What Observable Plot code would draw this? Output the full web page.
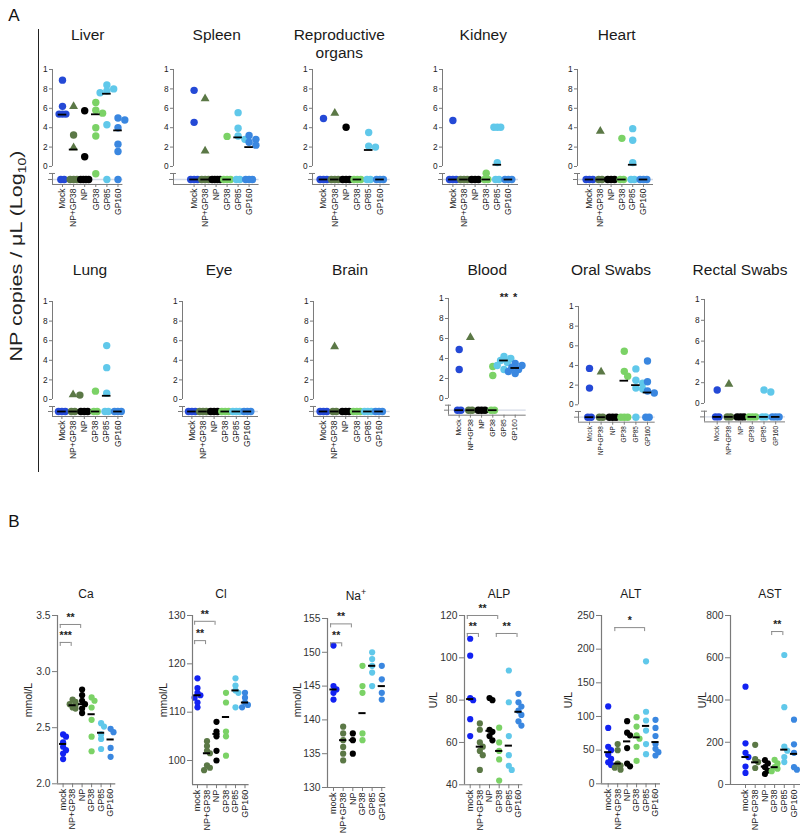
<!DOCTYPE html>
<html><head><meta charset="utf-8">
<script src="https://cdn.jsdelivr.net/npm/d3@7"></script>
<script src="https://cdn.jsdelivr.net/npm/@observablehq/plot@0.6"></script>
<style>
body{margin:0;background:#fff;font-family:Arial,"Liberation Sans",sans-serif;color:#222}
#page{position:relative;width:800px;height:836px;overflow:hidden;background:#fff}
</style></head><body><div id="page"></div>
<script>
// ---------- DATA ----------
const groups = ["Mock","NP+GP38","NP","GP38","GP85","GP160"];
const groupsLower = ["mock","NP+GP38","NP","GP38","GP85","GP160"];
const colorsA = ["#2449d6","#5b7846","#000000","#7bd266","#60c8ea","#3a87e0"];
const colorsB = ["#1222f2","#5b7846","#000000","#7bd266","#60c8ea","#3a87e0"];
const ND = null; // below detection limit

// Panel A: log10 NP copies/µL, per group [Mock, NP+GP38, NP, GP38, GP85, GP160]
const liver = [[8.9,6.2,5.4,5.4,5.4,ND,ND],[6.2,3.25,1.95,ND,ND,ND],[5.75,1.0,ND,ND,ND,ND],[6.6,5.8,5.5,4.0,3.15,-0.75],[8.4,8.0,7.8,7.6,4.3,ND],[5.0,4.8,4.0,2.3,1.55,ND]];
const liverMedian = [5.35,1.75,ND,5.38,7.5,3.72];
const liverTri = [6.2,1.95];
const spleen = [[7.85,4.55,ND,ND,ND],[7.0,1.6,ND,ND,ND],[ND,ND,ND,ND],[3.1,ND,ND,ND],[5.55,3.95,3.15,2.8,ND,ND],[3.2,2.8,2.5,2.2,ND,ND,ND]];
const spleenMedian = [ND,ND,ND,ND,3.0,2.0];
const spleenTri = [7.0,1.6];
const repro = [[4.95,ND,ND,ND],[5.5,ND,ND,ND],[4.05,ND,ND,ND],[ND,ND,ND],[3.5,2.1,2.0,ND,ND],[ND,ND,ND]];
const reproMedian = [ND,ND,ND,ND,1.7,ND];
const reproTri = [5.5];
const kidney = [[4.75,ND,ND,ND],[ND,ND,ND],[ND,ND,ND],[-0.7,ND,ND],[4.05,4.05,4.05,0.4,ND,ND],[ND,ND,ND]];
const kidneyMedian = [ND,ND,ND,ND,0.18,ND];
const kidneyTri = [];
const heart = [[ND,ND,ND],[3.65,ND,ND],[ND,ND,ND],[2.9,ND,ND],[3.9,2.7,0.4,ND,ND],[ND,ND,ND]];
const heartMedian = [ND,ND,ND,ND,0.18,ND];
const heartTri = [3.65];
const lung = [[ND,ND,ND],[0.5,0.45,ND,ND],[ND,ND,ND],[0.85,ND,ND],[5.5,3.25,0.65,ND,ND],[ND,ND,ND]];
const lungMedian = [ND,ND,ND,ND,0.38,ND];
const lungTri = [0.5];
const eye = [[ND,ND,ND],[ND,ND,ND],[ND,ND,ND],[ND,ND,ND],[ND,ND,ND],[ND,ND,ND]];
const eyeMedian = [ND,ND,ND,ND,ND,ND];
const eyeTri = [];
const brain = [[ND,ND,ND],[5.4,ND,ND],[ND,ND,ND],[ND,ND,ND],[ND,ND,ND],[ND,ND,ND]];
const brainMedian = [ND,ND,ND,ND,ND,ND];
const brainTri = [5.4];
const blood = [[4.9,2.9,ND,ND],[6.1,ND,ND],[ND,ND,ND],[3.2,2.3,ND,ND],[4.2,4.0,3.8,3.6,3.3,2.9],[3.5,3.3,3.1,2.9,2.7,2.5]];
const bloodMedian = [ND,ND,ND,ND,3.8,3.05];
const bloodTri = [6.1];
const bloodStars = [{g:4,t:"**"},{g:5,t:"*"}];
const oral = [[3.7,1.7,ND,ND],[3.35,ND,ND],[ND,ND,ND],[5.45,3.4,2.9,ND,ND,ND],[3.65,2.5,2.2,1.7,1.6,ND],[4.45,2.35,1.4,1.2,ND,ND]];
const oralMedian = [ND,ND,ND,2.45,2.0,1.25];
const oralTri = [3.35];
const rectal = [[1.3,ND,ND],[1.85,ND,ND],[ND,ND,ND],[ND,ND,ND],[1.3,1.1,ND,ND],[ND,ND,ND]];
const rectalMedian = [ND,ND,ND,ND,ND,ND];
const rectalTri = [1.85];
const organTicks = [0,2,4,6,8,10];

// Panel B: blood chemistry
const ca = [[2.44,2.42,2.37,2.33,2.30,2.27,2.22],[2.75,2.73,2.71,2.70,2.68,2.67],[2.84,2.79,2.74,2.71,2.67,2.63],[2.77,2.74,2.68,2.57,2.42,2.29],[2.54,2.51,2.44,2.40,2.31],[2.49,2.46,2.32,2.24]];
const caMedian = [2.355,2.70,2.71,2.62,2.455,2.395];
const caSig = [{a:0,b:2,y:3.42,t:"**"},{a:0,b:1,y:3.26,t:"***"}];
const cl = [[117,115,114,113.5,113,112,111],[104,103,102,101.5,99,98.5,98],[108,106,105,102,100],[114,112,106,105,101],[117,115.5,114.5,114,111],[114,113,112,111.5,111]];
const clMedian = [113.5,101.5,105.5,109,114.5,112];
const clSig = [{a:0,b:2,y:128.8,t:"**"},{a:0,b:1,y:124.8,t:"**"}];
const na = [[151,145,144.5,144,143],[139,138,137,136,135,134],[138,137,135],[148,145,144,138,137],[150,149,148,147,145],[148,146,144,143]];
const naMedian = [144.5,137,137,141,148,145];
const naSig = [{a:0,b:2,y:154.2,t:"**"},{a:0,b:1,y:151.4,t:"**"}];
const alp = [[109,101,81,80,71,63],[69,66,60,58,56,54,47],[81,80,66,65,63,61],[67,60,56,52,42],[94,79,63,54,49,47],[83,79,77,75,73,70,68]];
const alpMedian = [80.5,58,65.5,56,58.5,74.5];
const alpSig = [{a:0,b:3,y:120,t:"**"},{a:0,b:1,y:111.5,t:"**"},{a:3,b:5,y:111.5,t:"**"}];
const alt = [[115,83,55,50,43,37,32,28],[59,50,30,27,24,21],[93,76,72,53,30,26],[99,85,72,67,55,34],[182,107,94,79,59,44],[95,83,71,59,52,47,42]];
const altMedian = [47,30,63,69,86,62];
const altSig = [{a:1,b:4,y:232,t:"*"}];
const ast = [[463,195,150,130,85,55],[188,120,106,78],[115,100,82,66,50],[117,100,82,75,63],[613,366,180,160,130,106],[307,190,150,82,70]];
const astMedian = [130,105,85,82,165,145];
const astSig = [{a:3,b:4,y:724,t:"**"}];

// ---------- LAYOUT ----------
const page = document.getElementById("page");
const FONT = "Arial, 'Liberation Sans', sans-serif";
const axisC = "#7a7a7a";
function put(el, left, top){ el.style.position="absolute"; el.style.left=left+"px"; el.style.top=top+"px"; page.appendChild(el); }
function label(html, x, y, css){ const d=document.createElement("div"); d.innerHTML=html;
  d.style.cssText=`position:absolute;left:${x}px;top:${y}px;transform:translate(-50%,-50%);white-space:nowrap;text-align:center;line-height:1.15;${css||""}`; page.appendChild(d); return d; }

function dodge(ys, pxPerUnit, r, s, maxSteps){
  const n=ys.length, off=new Array(n).fill(0), done=new Array(n).fill(false);
  const runs=d3.group(d3.range(n), i=>ys[i]);
  for (const idx of runs.values()){
    if (idx.length<2) continue;
    const step=Math.min(s, 8/(idx.length-1));
    idx.forEach((i,k)=>{ off[i]=(k-(idx.length-1)/2)*step; done[i]=true; });
  }
  for (let i=0;i<n;i++){
    if (done[i]) continue;
    const cands=[0]; for (let k=1;k<=maxSteps;k++) cands.push(k*s,-k*s);
    let best=0, bestD=-1;
    for (const c of cands){
      let minD=Infinity;
      for (let j=0;j<n;j++) if (done[j]) minD=Math.min(minD, Math.hypot(c-off[j], (ys[i]-ys[j])*pxPerUnit));
      if (minD>=1.4*r){ best=c; break; }
      if (minD>bestD){ bestD=minD; best=c; }
    }
    off[i]=best; done[i]=true;
  }
  return off;
}

const row1 = {y10:69, y0:166, cap:173, nd:179, bottom:184, ty:35};
const row2 = {y10:301, y0:399, cap:406, nd:411, bottom:416, ty:270};
const rowBlood = {y10:298.3, y0:398.3, cap:405, nd:410, bottom:415, ty:270};
const rowOral = {y10:306, y0:404.3, cap:411, nd:416.7, bottom:421.7, ty:270};
const rowRectal = {y10:299.3, y0:403.3, cap:411, nd:416.7, bottom:421.7, ty:270};

const organs = [
  {title:"Liver", data:liver, median:liverMedian, tri:liverTri, geo:row1, ax:52.3, first:62.3, spacing:11.1, end:122.7, tx:87.7},
  {title:"Spleen", data:spleen, median:spleenMedian, tri:spleenTri, geo:row1, ax:172.7, first:193.3, spacing:11.0, end:258.3, tx:216.7},
  {title:"Reproductive<br>organs", data:repro, median:reproMedian, tri:reproTri, geo:row1, ax:312.3, first:323.3, spacing:11.3, end:390, tx:339.3, ty:44},
  {title:"Kidney", data:kidney, median:kidneyMedian, tri:kidneyTri, geo:row1, ax:442.3, first:452.7, spacing:11.1, end:518.3, tx:483.3},
  {title:"Heart", data:heart, median:heartMedian, tri:heartTri, geo:row1, ax:577.3, first:589.3, spacing:10.8, end:653.3, tx:616.7},
  {title:"Lung", data:lung, median:lungMedian, tri:lungTri, geo:row2, ax:52.3, first:61.7, spacing:11.2, end:123.3, tx:90},
  {title:"Eye", data:eye, median:eyeMedian, tri:eyeTri, geo:row2, ax:182.3, first:191.7, spacing:11.1, end:258.3, tx:219},
  {title:"Brain", data:brain, median:brainMedian, tri:brainTri, geo:row2, ax:313.3, first:323.3, spacing:11.1, end:390, tx:350},
  {title:"Blood", data:blood, median:bloodMedian, tri:bloodTri, geo:rowBlood, ax:448.3, first:459, spacing:11.2, end:526, tx:487.3, fs:6.9, stars:bloodStars},
  {title:"Oral Swabs", data:oral, median:oralMedian, tri:oralTri, geo:rowOral, ax:578.3, first:589.3, spacing:11.6, end:655, tx:611, fs:6.4},
  {title:"Rectal Swabs", data:rectal, median:rectalMedian, tri:rectalTri, geo:rowRectal, ax:704, first:716.7, spacing:11.7, end:785, tx:740, fs:6.4}
];

function organPanel(p){
  const g=p.geo, unit=(g.y0-g.y10)/10, toVal=px=>(g.y0-px)/unit;
  const ndVal=toVal(g.nd), capVal=toVal(g.cap), yMin=toVal(g.bottom);
  const xmin=(p.ax-p.first)/p.spacing, xmax=(p.end-p.first)/p.spacing;
  const mL=26, mR=10, mT=14, mB=60;
  const width=mL+(p.end-p.ax)+mR, height=mT+(g.bottom-g.y10)+mB;
  const r=3.7, pts=[];
  p.data.forEach((vals,gi)=>{
    const ys=vals.map(v=>v??ndVal);
    const off=dodge(ys, unit, r, 3.4, 2);
    const triList = gi===1 ? [...p.tri] : [];
    ys.forEach((y,k)=>{
      const v=vals[k]; let tri=false;
      const ti = v!=null ? triList.indexOf(v) : -1;
      if (ti>=0){ tri=true; triList.splice(ti,1); }
      pts.push({gi, x:gi+off[k]/p.spacing, y, tri, fill:colorsA[gi]});
    });
  });
  const meds=p.median.map((m,gi)=>({gi, y:m??ndVal}));
  const hw=4.3/p.spacing;
  const marks=[
    Plot.ruleY([ndVal], {x1:()=>xmin, x2:()=>xmax, stroke:"#d4dae6", strokeWidth:1.3}),
    Plot.dot(pts.filter(d=>!d.tri), {x:"x", y:"y", r, fill:"fill"}),
    Plot.dot(pts.filter(d=>d.tri), {x:"x", y:"y", r:3.3, symbol:"triangle", fill:"fill"}),
    Plot.ruleY(meds, {y:"y", x1:d=>d.gi-hw, x2:d=>d.gi+hw, stroke:"#000", strokeWidth:1.8}),
    Plot.ruleX([xmin], {y1:()=>0, y2:()=>10, stroke:axisC}),
    Plot.ruleX([xmin], {y1:()=>capVal, y2:()=>yMin, stroke:axisC}),
    Plot.ruleY([capVal], {x1:()=>xmin-3/p.spacing, x2:()=>xmin+3/p.spacing, stroke:axisC}),
    Plot.ruleY([yMin], {x1:()=>xmin, x2:()=>xmax, stroke:axisC}),
    Plot.axisY({ticks:organTicks, tickFormat:d=>d===10?"1":String(d), tickSize:3, tickPadding:2, fontSize:8.3, fill:"#222", stroke:axisC, label:null}),
    Plot.axisY({ticks:[ndVal], tickFormat:()=>"", tickSize:4, stroke:axisC, label:null}),
    Plot.axisX({ticks:d3.range(6), tickFormat:i=>groups[i], tickRotate:-90, tickSize:3, tickPadding:1, fontSize:p.fs||8.5, fill:"#222", stroke:axisC, label:null})
  ];
  if (p.stars) marks.push(Plot.text(p.stars, {x:"g", y:()=>10.15, text:"t", fontSize:11, fontWeight:"bold", fill:"#222"}));
  const svg=Plot.plot({width, height, marginLeft:mL, marginRight:mR, marginTop:mT, marginBottom:mB,
    x:{domain:[xmin,xmax]}, y:{domain:[yMin,10]}, color:{type:"identity"},
    style:{fontFamily:FONT, background:"transparent", overflow:"visible"}, marks});
  put(svg, p.ax-mL, g.y10-mT);
  label(p.title, p.tx, p.ty??g.ty, "font-size:15.5px;color:#1a1a1a");
}
organs.forEach(organPanel);

// Panel B
const chems = [
  {title:"Ca", data:ca, median:caMedian, sig:caSig, domain:[2.0,3.5], ticks:[2.0,2.5,3.0,3.5], fmt:d=>d.toFixed(1), top:615, bot:783.3, ax:56.7, first:62.3, spacing:9.5, end:115, tx:86, unit:"mmol/L", ux:28},
  {title:"Cl", data:cl, median:clMedian, sig:clSig, domain:[95,130], ticks:[100,110,120,130], fmt:d=>d, top:615, bot:784.2, ax:191.7, first:196.7, spacing:9.5, end:248.3, tx:221, unit:"mmol/L", ux:163},
  {title:"Na<sup style='font-size:9px'>+</sup>", data:na, median:naMedian, sig:naSig, domain:[130,155], ticks:[130,135,140,145,150,155], fmt:d=>d, top:617.7, bot:786.7, ax:326.7, first:332.7, spacing:9.66, end:385, tx:356, unit:"mmol/L", ux:297},
  {title:"ALP", data:alp, median:alpMedian, sig:alpSig, domain:[40,120], ticks:[40,60,80,100,120], fmt:d=>d, top:615, bot:784.3, ax:464.3, first:470, spacing:9.66, end:522.7, tx:499, unit:"U/L", ux:433},
  {title:"ALT", data:alt, median:altMedian, sig:altSig, domain:[0,250], ticks:[0,50,100,150,200,250], fmt:d=>d, top:615, bot:783.3, ax:601, first:607.7, spacing:9.46, end:660, tx:630.7, unit:"U/L", ux:568},
  {title:"AST", data:ast, median:astMedian, sig:astSig, domain:[0,800], ticks:[0,200,400,600,800], fmt:d=>d, top:615, bot:784, ax:730, first:745, spacing:9.7, end:800, tx:770, unit:"U/L", ux:702}
];

function chemPanel(p){
  const mL=36, mR=8, mT=24, mB=60;
  const width=mL+(p.end-p.ax)+mR, height=mT+(p.bot-p.top)+mB;
  const xmin=(p.ax-p.first)/p.spacing, xmax=(p.end-p.first)/p.spacing;
  const ppu=(p.bot-p.top)/(p.domain[1]-p.domain[0]);
  const r=3.1, pts=[];
  p.data.forEach((vals,gi)=>{
    const off=dodge(vals, ppu, r, 2.9, 1);
    vals.forEach((v,k)=>pts.push({x:gi+off[k]/p.spacing, y:v, fill:colorsB[gi]}));
  });
  const meds=p.median.map((m,gi)=>({gi, y:m}));
  const hw=3.6/p.spacing, drop=4/ppu;
  const marks=[
    Plot.dot(pts, {x:"x", y:"y", r, fill:"fill"}),
    Plot.ruleY(meds, {y:"y", x1:d=>d.gi-hw, x2:d=>d.gi+hw, stroke:"#000", strokeWidth:2}),
    Plot.ruleX([xmin], {y1:()=>p.domain[0], y2:()=>p.domain[1], stroke:axisC, strokeWidth:1.2}),
    Plot.ruleY([p.domain[0]], {x1:()=>xmin, x2:()=>xmax, stroke:axisC, strokeWidth:1.2}),
    Plot.axisY({ticks:p.ticks, tickFormat:p.fmt, tickSize:5, tickPadding:2, fontSize:10.3, fill:"#333", stroke:axisC, label:null}),
    Plot.axisX({ticks:d3.range(6), tickFormat:i=>groupsLower[i], tickRotate:-90, tickSize:4, tickPadding:1, fontSize:9, fill:"#222", stroke:axisC, label:null}),
    Plot.ruleY(p.sig, {y:"y", x1:d=>d.a-0.3, x2:d=>d.b-0.15, stroke:"#8a8a8a"}),
    Plot.ruleX(p.sig, {x:d=>d.a-0.3, y1:"y", y2:d=>d.y-drop, stroke:"#8a8a8a"}),
    Plot.ruleX(p.sig, {x:d=>d.b-0.15, y1:"y", y2:d=>d.y-drop, stroke:"#8a8a8a"}),
    Plot.text(p.sig, {x:d=>(d.a+d.b-0.45)/2, y:"y", dy:-7, text:"t", fontSize:10.5, fontWeight:"bold", fill:"#222"})
  ];
  const svg=Plot.plot({width, height, marginLeft:mL, marginRight:mR, marginTop:mT, marginBottom:mB,
    x:{domain:[xmin,xmax]}, y:{domain:p.domain}, color:{type:"identity"},
    style:{fontFamily:FONT, background:"transparent", overflow:"visible"}, marks});
  put(svg, p.ax-mL, p.top-mT);
  label(p.title, p.tx, 595, "font-size:12px;color:#1a1a1a");
  label(p.unit, p.ux, 700, "font-size:10.5px;color:#222;transform:translate(-50%,-50%) rotate(-90deg)");
}
chems.forEach(chemPanel);

// Figure decorations
label("A", 14, 16, "font-size:17px;color:#111");
label("B", 14, 522, "font-size:17px;color:#111");
label("NP copies / μL (Log<sub style='font-size:14px'>10</sub>)", 18, 256, "font-size:21.5px;color:#222;transform:translate(-50%,-50%) rotate(-90deg) scale(1,0.8)");
const vline=document.createElement("div"); vline.style.cssText="width:0;height:443px;border-left:1.5px solid #222"; put(vline, 37.5, 29);
</script></body></html>
